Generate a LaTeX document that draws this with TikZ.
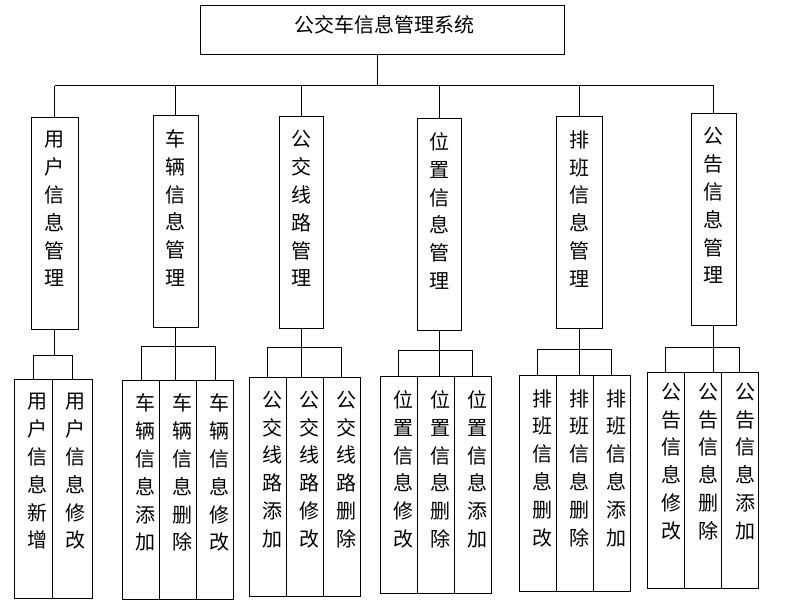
\documentclass[tikz,border=0pt]{standalone}
\usepackage{fontspec}
\newfontfamily\cjk{Noto Sans CJK SC}
\usetikzlibrary{positioning}

\begin{document}
\begin{tikzpicture}[x=1pt,y=-1pt,
  wire/.style={draw=black,line width=0.8pt},
  rootbox/.style={draw=black,line width=0.8pt,minimum width=364pt,minimum height=49pt,inner sep=0pt,outer sep=0pt},
  modbox/.style={draw=black,line width=0.8pt,minimum width=45pt,minimum height=212pt,inner sep=0pt,outer sep=0pt},
  leafbox/.style={draw=black,line width=0.8pt,minimum width=37pt,minimum height=219pt,inner sep=0pt,outer sep=0pt},
  vtext/.style={font=\cjk\fontsize{20pt}{27.8pt}\selectfont,align=center,inner sep=0pt},
  titletext/.style={font=\cjk\fontsize{20pt}{23pt}\selectfont,inner sep=0pt}
]
\fill[white] (0,0) rectangle (792,603);
\useasboundingbox (0,0) rectangle (792,603);
% root
\node[rootbox] (sys) at (382.8,29.5) {};
\node[titletext] (syst) at (384,25) {公交车信息管理系统};
\coordinate (bus) at (377.7,85.5);
\draw[wire] (sys.south -| bus) -- (bus);
% modules
\node[modbox,minimum width=47pt] (yh) at (54.8,223.8) {};
\node[modbox] (cl) at (175.5,221.8) {};
\node[modbox,minimum width=44pt] (xl) at (301.3,222.8) {};
\node[modbox,minimum width=44pt] (wz) at (439.5,224.8) {};
\node[modbox,minimum width=46pt] (pb) at (579.3,222.8) {};
\node[modbox] (gg) at (713.8,219.8) {};
\draw[wire] (yh.north |- bus) -- (gg.north |- bus);
\draw[wire] (yh.north |- bus) -- (yh.north); \draw[wire] (cl.north |- bus) -- (cl.north); \draw[wire] (xl.north |- bus) -- (xl.north);
\draw[wire] (wz.north |- bus) -- (wz.north); \draw[wire] (pb.north |- bus) -- (pb.north); \draw[wire] (gg.north |- bus) -- (gg.north);
\node[vtext,below=13.5pt of yh.north] (yht) {用\\户\\信\\息\\管\\理};
\node[vtext,below=13.5pt of cl.north] (clt) {车\\辆\\信\\息\\管\\理};
\node[vtext,below=13.5pt of xl.north] (xlt) {公\\交\\线\\路\\管\\理};
\node[vtext,below=13.5pt of wz.north] (wzt) {位\\置\\信\\息\\管\\理};
\node[vtext,below=13.5pt of pb.north] (pbt) {排\\班\\信\\息\\管\\理};
\node[vtext,below=13.5pt of gg.north] (ggt) {公\\告\\信\\息\\管\\理};
% user functions
\coordinate (fyh) at (0,355);
\node[leafbox,minimum width=38pt] (yh1) at (33.3,489.2) {};
\node[leafbox,minimum width=40pt,right=0pt of yh1] (yh2) {};
\draw[wire] (yh.south) -- (yh.south |- fyh);
\draw[wire] (yh1.north) -- (yh1.north |- fyh) -| (yh2.north);
\node[vtext,below=13.5pt of yh1.north,xshift=4.5pt] (yh1t) {用\\户\\信\\息\\新\\增};
\node[vtext,below=13.5pt of yh2.north,xshift=3.5pt] (yh2t) {用\\户\\信\\息\\修\\改};
% vehicle functions
\coordinate (fcl) at (0,346.7);
\node[leafbox] (cl1) at (141,489.7) {};
\node[leafbox,right=0pt of cl1] (cl2) {};
\node[leafbox,right=0pt of cl2] (cl3) {};
\draw[wire] (cl.south) -- (cl.south |- cl2.north);
\draw[wire] (cl1.north) -- (cl1.north |- fcl) -| (cl3.north);
\node[vtext,below=13.5pt of cl1.north,xshift=4.5pt] (cl1t) {车\\辆\\信\\息\\添\\加};
\node[vtext,below=13.5pt of cl2.north,xshift=4.5pt] (cl2t) {车\\辆\\信\\息\\删\\除};
\node[vtext,below=13.5pt of cl3.north,xshift=4.5pt] (cl3t) {车\\辆\\信\\息\\修\\改};
% route functions
\coordinate (fxl) at (0,347.3);
\node[leafbox] (xl1) at (267.5,486.7) {};
\node[leafbox,right=0pt of xl1] (xl2) {};
\node[leafbox,right=0pt of xl2] (xl3) {};
\draw[wire] (xl.south) -- (xl.south |- xl2.north);
\draw[wire] (xl1.north) -- (xl1.north |- fxl) -| (xl3.north);
\node[vtext,below=13.5pt of xl1.north,xshift=4.5pt] (xl1t) {公\\交\\线\\路\\添\\加};
\node[vtext,below=13.5pt of xl2.north,xshift=4.5pt] (xl2t) {公\\交\\线\\路\\修\\改};
\node[vtext,below=13.5pt of xl3.north,xshift=4.5pt] (xl3t) {公\\交\\线\\路\\删\\除};
% position functions
\coordinate (fwz) at (0,350);
\node[leafbox,minimum height=217pt] (wz1) at (398.7,485.3) {};
\node[leafbox,minimum height=217pt,right=0pt of wz1] (wz2) {};
\node[leafbox,minimum height=217pt,right=0pt of wz2] (wz3) {};
\draw[wire] (wz.south) -- (wz.south |- wz2.north);
\draw[wire] (wz1.north) -- (wz1.north |- fwz) -| (wz3.north);
\node[vtext,below=13.5pt of wz1.north,xshift=4.5pt] (wz1t) {位\\置\\信\\息\\修\\改};
\node[vtext,below=13.5pt of wz2.north,xshift=4.5pt] (wz2t) {位\\置\\信\\息\\删\\除};
\node[vtext,below=13.5pt of wz3.north,xshift=4.5pt] (wz3t) {位\\置\\信\\息\\添\\加};
% schedule functions
\coordinate (fpb) at (0,349.3);
\node[leafbox,minimum height=216pt] (pb1) at (537.8,483.5) {};
\node[leafbox,minimum height=216pt,right=0pt of pb1] (pb2) {};
\node[leafbox,minimum height=216pt,right=0pt of pb2] (pb3) {};
\draw[wire] (pb.south) -- (pb.south |- pb2.north);
\draw[wire] (pb1.north) -- (pb1.north |- fpb) -| (pb3.north);
\node[vtext,below=13.5pt of pb1.north,xshift=4.5pt] (pb1t) {排\\班\\信\\息\\删\\改};
\node[vtext,below=13.5pt of pb2.north,xshift=4.5pt] (pb2t) {排\\班\\信\\息\\删\\除};
\node[vtext,below=13.5pt of pb3.north,xshift=4.5pt] (pb3t) {排\\班\\信\\息\\添\\加};
% notice functions
\coordinate (fgg) at (0,347.3);
\node[leafbox,minimum height=216pt] (gg1) at (665.8,480.8) {};
\node[leafbox,minimum height=216pt,right=0pt of gg1] (gg2) {};
\node[leafbox,minimum height=216pt,right=0pt of gg2] (gg3) {};
\draw[wire] (gg.south) -- (gg.south |- gg2.north);
\draw[wire] (gg1.north) -- (gg1.north |- fgg) -| (gg3.north);
\node[vtext,below=10pt of gg1.north,xshift=5.5pt] (gg1t) {公\\告\\信\\息\\修\\改};
\node[vtext,below=10pt of gg2.north,xshift=5.5pt] (gg2t) {公\\告\\信\\息\\删\\除};
\node[vtext,below=10pt of gg3.north,xshift=5.5pt] (gg3t) {公\\告\\信\\息\\添\\加};
\end{tikzpicture}
\end{document}
